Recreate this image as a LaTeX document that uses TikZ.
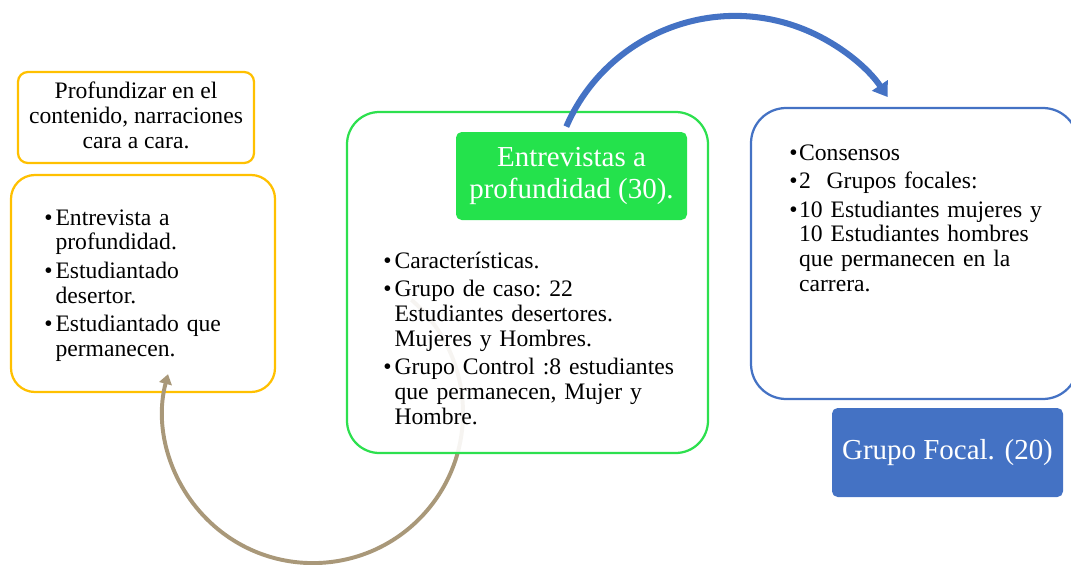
\documentclass[tikz,border=0pt]{standalone}
\usepackage{fontspec}
\setmainfont{Liberation Serif}
\usetikzlibrary{arrows.meta}
\definecolor{gold}{RGB}{255,192,0}
\definecolor{leaf}{RGB}{45,224,78}
\definecolor{leaffill}{RGB}{36,226,76}
\definecolor{steel}{RGB}{68,114,196}
\definecolor{sand}{RGB}{169,152,121}
\newcommand{\px}{0.025cm}
\newcommand{\bul}[2][8pt]{\hangindent=#1\hangafter=1\noindent
  \makebox[#1][l]{\textbullet}#2\par\vspace{2.6pt}}
\begin{document}
\begin{tikzpicture}[x=\px, y=-\px,
		frame/.style = {draw=#1, line width=1.6pt, fill=white,
			inner sep=0pt},% outlined boxes
		tag/.style = {fill=#1, rounded corners=4pt, text=white,
			font=\fontsize{20.6}{22.5}\selectfont, align=center,
			minimum width=231*\px, inner sep=0pt},% filled titles
		list/.style = {inner sep=0pt, anchor=base west,
			text width=#1*\px,
			font=\fontsize{16.8}{17.7}\selectfont\raggedright\frenchspacing},
		]
		\useasboundingbox (0,0) rectangle (1071,565);
		% left column
		\node (goal) [frame=gold, rounded corners=7pt,
			minimum width=236*\px, minimum height=91*\px] at (136,117.5) {};
		\node (goaltxt) [inner sep=0pt, anchor=base, align=center,
			font=\fontsize{16.8}{17.7}\selectfont] at (136,148)
			{Profundizar en el\\contenido, narraciones\\cara a cara.};
		\node (plan) [frame=gold, rounded corners=17pt,
			minimum width=264*\px, minimum height=217*\px] at (143,283.5) {};
		\node (plantxt) [list=210] at (44,225) {%
			\bul{Entrevista a\newline profundidad.}%
			\bul{Estudiantado\newline desertor.}%
			\bul{Estudiantado que\newline permanecen.}};
		% back arrow
		\coordinate (s1) at (411.4,299.8);
		\draw[sand, line width=2.8pt, -{Triangle[length=7pt,width=9pt]}]
			(s1) arc[start angle=49, end angle=-195, radius=3.75cm];
		% middle column
		\node (case) [frame=leaf, fill opacity=0.9, rounded corners=23pt,
			minimum width=361*\px, minimum height=341*\px] at (527.5,282.5) {};
		\coordinate (s2) at (566.3,126.6);
		\draw[steel, line width=4.3pt, -{Triangle[length=10pt,width=13pt]}]
			(s2) arc[start angle=156.5, end angle=34, radius=4.6cm];
		\node (casehead) [tag=leaffill, minimum height=88*\px] at (571.5,176)
			{Entrevistas a\\profundidad (30).};
		\node (casetxt) [list=310] at (383,268) {%
			\bul{Características.}%
			\bul{Grupo de caso: 22\newline Estudiantes desertores.\newline Mujeres y Hombres.}%
			\bul{Grupo Control :8 estudiantes\newline que permanecen, Mujer y\newline Hombre.}};
		% right column
		\node (focus) [frame=steel, rounded corners=25pt,
			minimum width=327*\px, minimum height=291*\px] at (914.5,253.5) {};
		\node (focustxt) [list=270] at (789,160) {%
			\bul[7pt]{Consensos}%
			\bul[7pt]{2\ \ Grupos focales:}%
			\bul[7pt]{10 Estudiantes mujeres y\newline 10 Estudiantes hombres\newline que permanecen en la\newline carrera.}};
		\node (focushead) [tag=steel, minimum height=89*\px] at (947.5,452.5)
			{Grupo Focal. (20)};
	\end{tikzpicture}
\end{document}
